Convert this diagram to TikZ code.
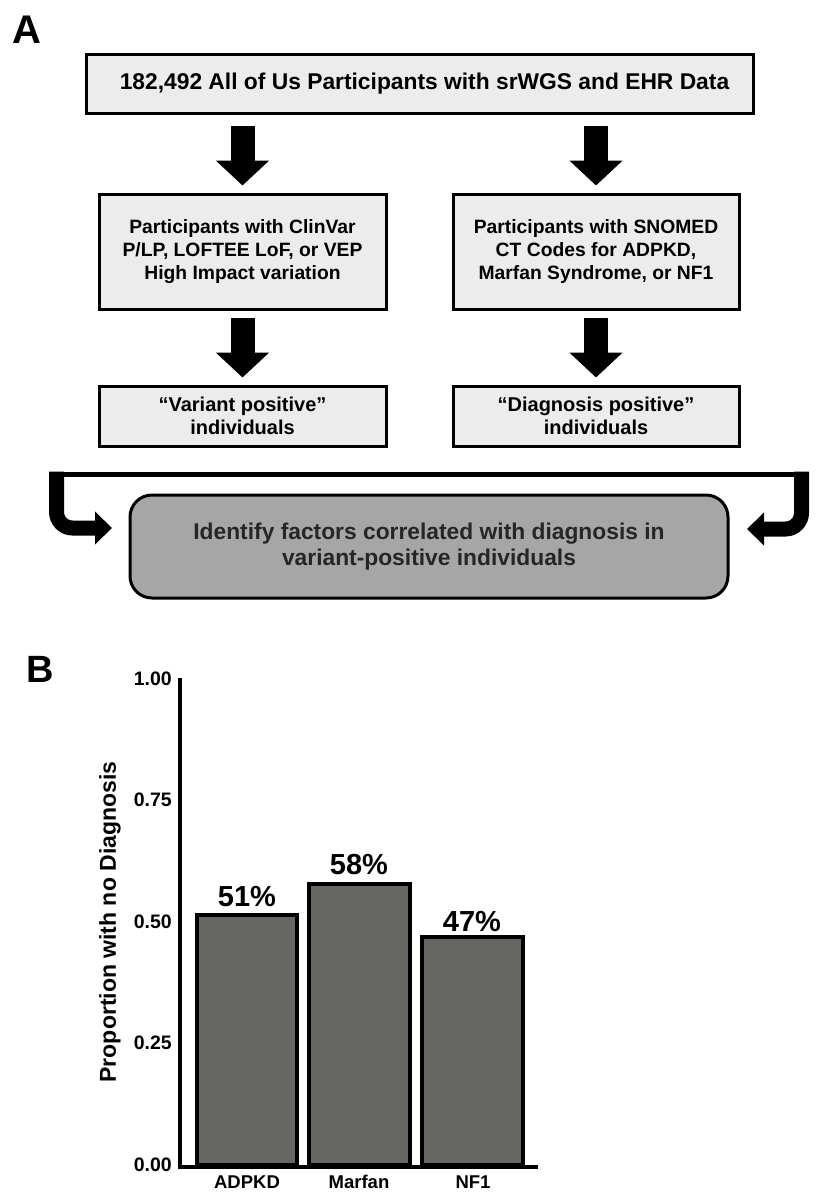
\documentclass[tikz,border=0pt]{standalone}
\usepackage{fontspec}
\setmainfont{Liberation Sans}
\usetikzlibrary{arrows.meta,calc}
\definecolor{boxfill}{HTML}{ECECEC}
\definecolor{finalfill}{HTML}{A6A6A6}
\definecolor{barfill}{HTML}{666663}
\definecolor{darktext}{HTML}{262626}
\tikzset{
  fbox/.style={draw=black, line width=3pt, fill=boxfill, inner sep=0pt, align=center, font=\bfseries\fontsize{19.3}{23}\selectfont},
  bigarrow/.style={line width=24pt, -{Triangle[width=52pt,length=25pt]}},
  bracketline/.style={line width=15pt, rounded corners=16pt, -{Triangle[width=32pt,length=17pt]}},
  bar/.style={draw=black, line width=4.5pt, fill=barfill},
  axisline/.style={line width=4.5pt},
  ticklabel/.style={anchor=east, inner sep=0pt, font=\bfseries\fontsize{19.5}{22}\selectfont},
  pctlabel/.style={inner sep=0pt, font=\bfseries\fontsize{29}{32}\selectfont},
  catlabel/.style={inner sep=0pt, font=\bfseries\fontsize{18.5}{20}\selectfont},
  panel/.style={inner sep=0pt, font=\bfseries\fontsize{40}{44}\selectfont}
}
\begin{document}
\begin{tikzpicture}[x=1pt,y=-1pt]
\useasboundingbox (0,0) rectangle (824,1200);
% Panel A
\node[panel] (lblA) at (27,30) {A};
\node[fbox, minimum width=667pt, minimum height=59pt] (top) at (419.5,83.5) {};
\node[inner sep=0pt, font=\bfseries\fontsize{22.8}{26}\selectfont] (toptext) at (424.5,83.5) {182,492 All of Us Participants with srWGS and EHR Data};
\node[fbox, minimum width=287pt, minimum height=115pt] (midL) at (242.5,251.5) {Participants with ClinVar\\P/LP, LOFTEE LoF, or VEP\\High Impact variation};
\node[fbox, minimum width=286pt, minimum height=115pt] (midR) at (596,251.5) {Participants with SNOMED\\CT Codes for ADPKD,\\Marfan Syndrome, or NF1};
\node[fbox, minimum width=287pt, minimum height=60pt, font=\bfseries\fontsize{20}{23}\selectfont] (botL) at (242.5,416) {“Variant positive”\\individuals};
\node[fbox, minimum width=286pt, minimum height=60pt, font=\bfseries\fontsize{20}{23}\selectfont] (botR) at (596,416) {“Diagnosis positive”\\individuals};
\node[draw=black, line width=3pt, fill=finalfill, rounded corners=22pt, inner sep=0pt, minimum width=598pt, minimum height=103pt, align=center, text=darktext, font=\bfseries\fontsize{22.8}{26}\selectfont] (final) at (429,546.5) {Identify factors correlated with diagnosis in\\variant-positive individuals};
% block arrows
\draw[bigarrow] ($(top.south -| midL.north)+(0,11)$) -- ($(midL.north)+(0,-7)$);
\draw[bigarrow] ($(top.south -| midR.north)+(0,11)$) -- ($(midR.north)+(0,-7)$);
\draw[bigarrow] ($(midL.south)+(0,7)$) -- ($(botL.north)+(0,-7)$);
\draw[bigarrow] ($(midR.south)+(0,7)$) -- ($(botR.north)+(0,-7)$);
% bracket
\coordinate (brL) at (49,474);
\coordinate (brR) at (809,474);
\coordinate (tipL) at (112,528);
\coordinate (tipR) at (747,529);
\draw[line width=5pt] (brL) -- (brR);
\draw[bracketline] (56.5,471.5) -- (56.5,528) -- (tipL);
\draw[bracketline] (801.5,471.5) -- (801.5,529) -- (tipR);
% Panel B
\node[panel, font=\bfseries\fontsize{38}{42}\selectfont] (lblB) at (40,669) {B};
\coordinate (origin) at (180,1167);
\coordinate (ytop) at (180,678);
\coordinate (xend) at (538,1167);
\draw[bar] (197,1165) rectangle (297,915);
\draw[bar] (309,1165) rectangle (410,884);
\draw[bar] (422,1165) rectangle (523,937);
\draw[axisline] (ytop) -- (origin.center) -- (xend);
\node[ticklabel] (t100) at (172,679) {1.00};
\node[ticklabel] (t075) at (172,800) {0.75};
\node[ticklabel] (t050) at (172,922) {0.50};
\node[ticklabel] (t025) at (172,1043) {0.25};
\node[ticklabel] (t000) at (172,1165) {0.00};
\node[pctlabel] (p1) at (247,897) {51\%};
\node[pctlabel] (p2) at (359,865) {58\%};
\node[pctlabel] (p3) at (472,922) {47\%};
\node[catlabel] (c1) at (247,1182) {ADPKD};
\node[catlabel] (c2) at (359,1182) {Marfan};
\node[catlabel] (c3) at (473,1182) {NF1};
\node[rotate=90, inner sep=0pt, font=\bfseries\fontsize{23}{26}\selectfont] (ylab) at (110,922) {Proportion with no Diagnosis};
\end{tikzpicture}
\end{document}
